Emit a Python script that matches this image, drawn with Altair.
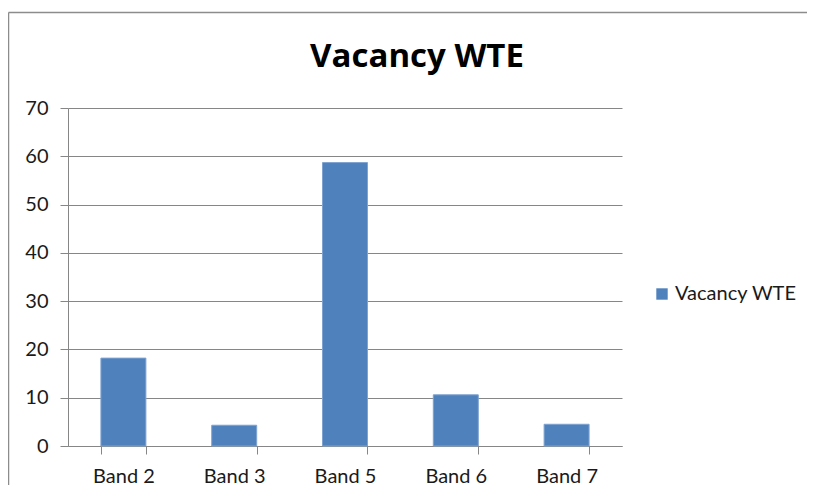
import altair as alt
import pandas as pd

bands = ["Band 2", "Band 3", "Band 5", "Band 6", "Band 7"]
values = [18.2, 4.3, 58.7, 10.6, 4.5]
series_name = "Vacancy WTE"
y_ticks = [0, 10, 20, 30, 40, 50, 60, 70]

df = pd.DataFrame({"band": bands, "value": values, "series": [series_name] * len(bands)})
frame_df = pd.DataFrame({"f": [0]})

FONT = "Lato"
GRID = "#868686"

bars = alt.Chart(df).mark_bar(stroke="#7FA3D0", strokeWidth=1).encode(
    x=alt.X(
        "band:N", sort=bands, title=None,
        scale=alt.Scale(paddingInner=0.594, paddingOuter=0.297),
        axis=alt.Axis(labelAngle=0, tickBand="extent", labelFontSize=20, labelFont=FONT,
                      labelColor="#1a1a1a", domainColor=GRID, tickColor=GRID, tickSize=8,
                      labelPadding=12, grid=False),
    ),
    y=alt.Y(
        "value:Q", title=None, scale=alt.Scale(domain=[0, 70], nice=False),
        axis=alt.Axis(values=y_ticks, labelFontSize=20, labelFont=FONT, labelColor="#1a1a1a",
                      domainColor=GRID, tickColor=GRID, tickSize=8, labelPadding=12,
                      grid=True, gridColor=GRID, gridOpacity=1),
    ),
    color=alt.Color(
        "series:N", scale=alt.Scale(range=["#4F81BD"]),
        legend=alt.Legend(title=None, orient="none", legendX=584, legendY=176,
                          symbolType="square", symbolSize=130, symbolStrokeWidth=0,
                          labelFontSize=20, labelFont=FONT, labelColor="#1a1a1a", labelOffset=3),
    ),
)

frame_left = alt.Chart(frame_df).mark_rule(color="#8c8c8c", strokeWidth=1.5).encode(
    x=alt.value(-59.5), y=alt.value(-95.5), y2=alt.value(500)
)
frame_top = alt.Chart(frame_df).mark_rule(color="#8c8c8c", strokeWidth=1.5).encode(
    x=alt.value(-59.5), x2=alt.value(800), y=alt.value(-95.5)
)

chart = alt.layer(bars, frame_left, frame_top).properties(
    width=554, height=338,
    title=alt.TitleParams("Vacancy WTE", fontSize=33, fontWeight="bold", font="Open Sans",
                          anchor="middle", frame="group", dx=72, offset=-62, color="#000"),
    autosize=alt.AutoSizeParams(type="none"),
    padding={"left": 60, "top": 100, "right": 185, "bottom": 39},
).configure_view(stroke=None)

chart.save("out.html", embed_options={"renderer": "svg", "actions": False})
